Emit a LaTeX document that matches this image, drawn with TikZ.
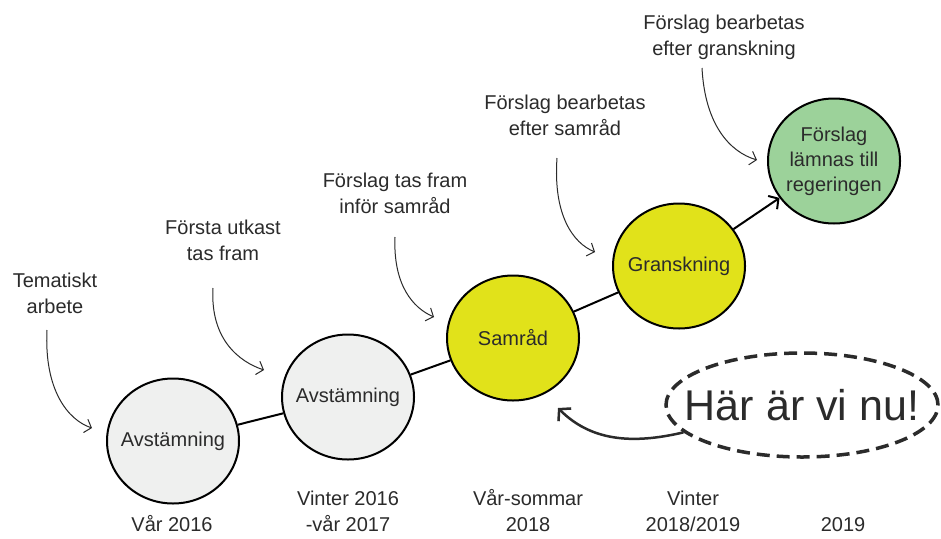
\documentclass[tikz,border=0pt]{standalone}
\usepackage{fontspec}
\setmainfont{Liberation Sans}
\usetikzlibrary{shapes.geometric,arrows.meta}
\definecolor{ink}{HTML}{2B2B2B}
\definecolor{grayfill}{HTML}{EFF0EF}
\definecolor{yellowfill}{HTML}{E1E21A}
\definecolor{greenfill}{HTML}{9CD29A}
\tikzset{
  stage/.style={ellipse, draw=black, line width=2pt, inner sep=-25pt,
    minimum width=132pt, minimum height=125pt, text=ink, align=center,
    font=\fontsize{20}{25}\selectfont},
  lbl/.style={text=ink, align=center, inner sep=0pt, anchor=base,
    font=\fontsize{20}{26}\selectfont},
  link/.style={draw=black, line width=2pt},
  note/.style={draw=ink, line width=1pt, -{Straight Barb[length=6pt,width=14pt]}},
}
\begin{document}
\begin{tikzpicture}[x=1pt,y=-1pt]
\useasboundingbox[fill=white] (0,0) rectangle (941,538);
% stages
\node[stage, fill=grayfill] (c1) at (173,441) {Avstämning};
\node[stage, fill=grayfill] (c2) at (348,397) {Avstämning};
\node[stage, fill=yellowfill] (c3) at (513,338) {Samråd};
\node[stage, fill=yellowfill] (c4) at (679,266) {Granskning};
\node[stage, fill=greenfill] (c5) at (834,161) {Förslag\\lämnas till\\regeringen};
% links
\draw[link] (c1) -- (c2);
\draw[link] (c2) -- (c3);
\draw[link] (c3) -- (c4);
\draw[link, -{Straight Barb[length=7pt,width=16pt,line width=2pt]}] (c4) -- (c5);
% top labels
\node[lbl] (t1) at (55,313) {Tematiskt\\arbete};
\node[lbl] (t2) at (223,260) {Första utkast\\tas fram};
\node[lbl] (t3) at (395,213) {Förslag tas fram\\inför samråd};
\node[lbl] (t4) at (565,135) {Förslag bearbetas\\efter samråd};
\node[lbl] (t5) at (724,55) {Förslag bearbetas\\efter granskning};
% note arrows
\coordinate (s1) at (47,330); \coordinate (e1) at (92,428);
\coordinate (s2) at (213,288); \coordinate (e2) at (264,370);
\coordinate (s3) at (395,237); \coordinate (e3) at (434,317);
\coordinate (s4) at (557,158); \coordinate (e4) at (595,252);
\coordinate (s5) at (702,68);  \coordinate (e5) at (757,160);
\draw[note] (s1) .. controls (44,390) and (68,420) .. (e1);
\draw[note] (s2) .. controls (210,340) and (240,362) .. (e2);
\draw[note] (s3) .. controls (393,285) and (413,308) .. (e3);
\draw[note] (s4) .. controls (553,215) and (573,243) .. (e4);
\draw[note] (s5) .. controls (705,125) and (730,152) .. (e5);
% bottom labels
\node[lbl] (b1) at (172,531) {Vår 2016};
\node[lbl] (b2) at (348,531) {Vinter 2016\\-vår 2017};
\node[lbl] (b3) at (528,531) {Vår-sommar\\2018};
\node[lbl] (b4) at (693,531) {Vinter\\2018/2019};
\node[lbl] (b5) at (843,531) {2019};
% here we are
\node[ellipse, draw=ink, line width=3.5pt, dash pattern=on 13pt off 7pt,
  minimum width=272pt, minimum height=104pt, inner xsep=-60pt, inner ysep=-15pt,
  text=ink, font=\fontsize{43}{50}\selectfont] (now) at (802,405) {Här är vi nu!};
\coordinate (nowend) at (558,408);
\draw[ink, line width=2.5pt, -{Straight Barb[length=8pt,width=18pt,line width=2.5pt]}]
  (now.193) .. controls (630,445) and (590,440) .. (nowend);
\end{tikzpicture}
\end{document}
